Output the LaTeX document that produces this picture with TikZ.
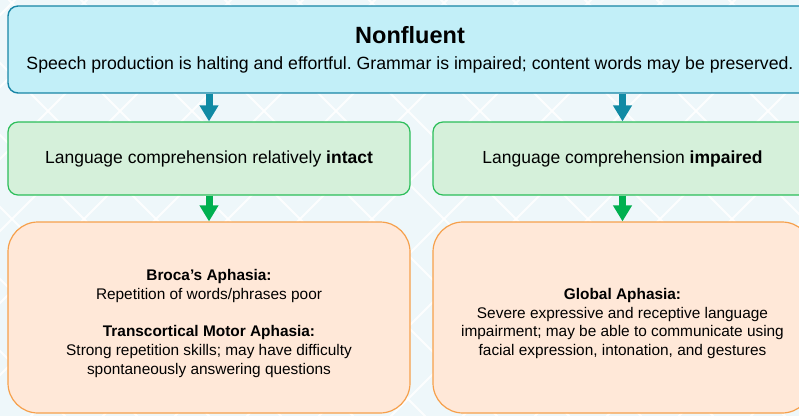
\documentclass[tikz,border=0pt]{standalone}
\usepackage{fontspec}
\setmainfont{Liberation Sans}
\usetikzlibrary{arrows.meta,positioning}
\definecolor{bgblue}{RGB}{238,247,250}
\definecolor{topfill}{RGB}{194,239,248}
\definecolor{topline}{RGB}{24,134,166}
\definecolor{toparrow}{RGB}{16,138,164}
\definecolor{midfill}{RGB}{213,240,218}
\definecolor{midline}{RGB}{44,190,90}
\definecolor{midarrow}{RGB}{0,176,80}
\definecolor{lowfill}{RGB}{255,232,216}
\definecolor{lowline}{RGB}{246,160,76}
\frenchspacing

\begin{document}
\begin{tikzpicture}[x=1pt,y=1pt]
             \tikzstyle{topbox} = [draw=topline,fill=topfill,line width=1.4pt,rounded corners=10pt,inner sep=0pt,align=center,minimum width=804pt,minimum height=87pt,font=\fontsize{17.7}{26}\selectfont]
             \tikzstyle{midbox} = [draw=midline,fill=midfill,line width=1.2pt,rounded corners=10pt,inner sep=0pt,align=center,minimum height=73pt,font=\fontsize{17.5}{20}\selectfont]
             \tikzstyle{lowbox} = [draw=lowline,fill=lowfill,line width=1.2pt,rounded corners=30pt,minimum height=191pt]
             \tikzstyle{lowtext} = [inner sep=0pt,align=center,font=\fontsize{15.4}{18.8}\selectfont]
             \tikzstyle{down} = [line width=7pt,-{Triangle[width=18pt,length=16pt]}]
		\useasboundingbox (0,0) rectangle (799,416);
		\clip (0,0) rectangle (799,416);
		% Background
		\fill[bgblue] (0,0) rectangle (799,416);
		\foreach \k in {-2,...,15}
			\draw[white,line width=1.8pt,opacity=0.85] (-20,-20+257-72*\k) -- (820,820+257-72*\k);
		\foreach \k in {-5,...,12}
			\draw[white,line width=1.8pt,opacity=0.85] (-20,20+353+72*\k) -- (820,-820+353+72*\k);
		% Fluency
		\node[topbox] (nonfluent) at (410,366.5) {{\fontsize{23.5}{26}\selectfont\bfseries Nonfluent}\\Speech production is halting and effortful. Grammar is impaired; content words may be preserved.};
		% Comprehension
		\node[midbox,minimum width=402pt] (intact) at (209,257.5) {Language comprehension relatively \textbf{intact}};
		\node[midbox,minimum width=379pt] (impaired) at (622.5,257.5) {Language comprehension \textbf{impaired}};
		\draw[down,toparrow] (intact.north |- nonfluent.south) -- (intact.north);
		\draw[down,toparrow] (impaired.north |- nonfluent.south) -- (impaired.north);
		% Aphasia types
		\node[lowbox,minimum width=402pt] (broca) at (209,98.5) {};
		\node[lowbox,minimum width=379pt] (global) at (622.5,98.5) {};
		\node[lowtext] (brocatext) at ([yshift=-6pt]broca.center) {\textbf{Broca’s Aphasia:}\\Repetition of words/phrases poor\\[19pt]\textbf{Transcortical Motor Aphasia:}\\Strong repetition skills; may have difficulty\\spontaneously answering questions};
		\node[lowtext] (globaltext) at ([yshift=-6pt]global.center) {\textbf{Global Aphasia:}\\Severe expressive and receptive language\\impairment; may be able to communicate using\\facial expression, intonation, and gestures};
		\draw[down,midarrow] (intact) -- (broca);
		\draw[down,midarrow] (impaired) -- (global);
		\end{tikzpicture}
\end{document}
